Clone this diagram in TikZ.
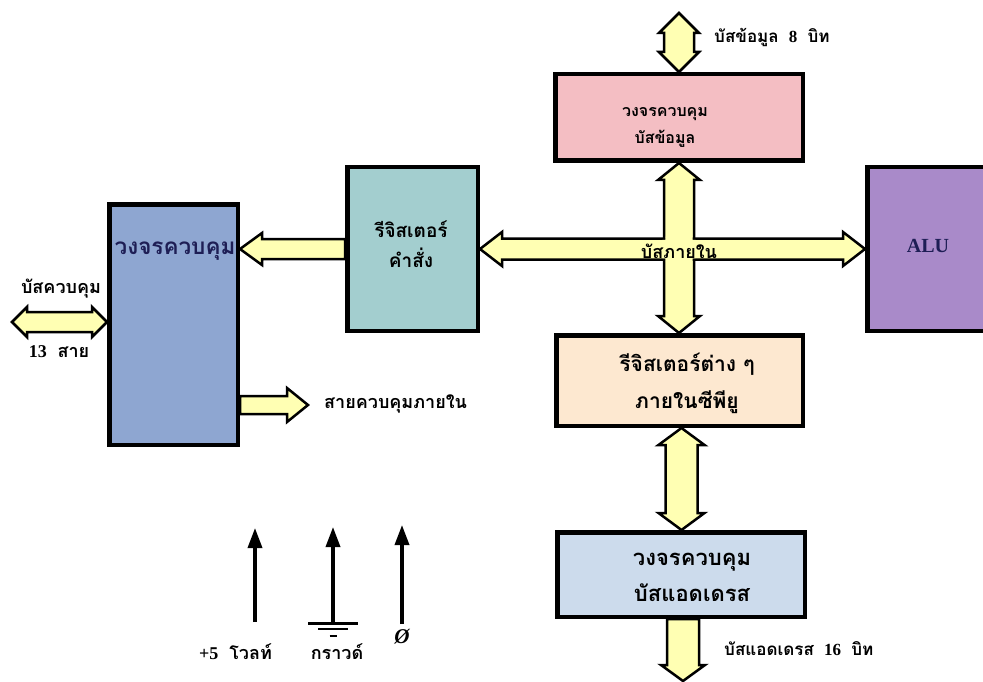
\documentclass[tikz,border=0pt]{standalone}
\usepackage{fontspec}
\setmainfont{Liberation Serif}
\newfontfamily\thai[Script=Thai]{Loma}
\usetikzlibrary{calc,arrows.meta}

\definecolor{busyellow}{HTML}{FFFFB3}
\definecolor{pinkbox}{HTML}{F4BEC3}
\definecolor{bluebox}{HTML}{8EA6D1}
\definecolor{tealbox}{HTML}{A3CECF}
\definecolor{purplebox}{HTML}{A98AC9}
\definecolor{peachbox}{HTML}{FDE8D0}
\definecolor{lightbluebox}{HTML}{CCDBEC}
\definecolor{navytext}{HTML}{1E1E55}

\pgfdeclarelayer{paper}
\pgfdeclarelayer{buslayer}
\pgfsetlayers{paper,buslayer,main}

\newcommand\gap{\hspace{0.6em}}

\tikzset{
  blockbox/.style={draw=black, line width=4.5pt, inner sep=0pt, anchor=north west},
  fatbus/.style={fill=busyellow, draw=black, line width=2.5pt, line join=miter},
  thtext/.style={font=\thai\bfseries\fontsize{18}{27}\selectfont, align=center, inner sep=1pt},
  pwr/.style={line width=3.5pt, -{Triangle[length=20pt,width=14pt]}},
}

% fat double-headed bus, vertical: top tip, bottom tip, half shaft, half head, head length
\newcommand\vdbl[5]{%
  \path[fatbus] let \p1=(#1), \p2=(#2) in
    (\x1,\y1) -- (\x1+#4pt,\y1-#5pt) -- (\x1+#3pt,\y1-#5pt) -- (\x1+#3pt,\y2+#5pt)
    -- (\x1+#4pt,\y2+#5pt) -- (\x1,\y2) -- (\x1-#4pt,\y2+#5pt) -- (\x1-#3pt,\y2+#5pt)
    -- (\x1-#3pt,\y1-#5pt) -- (\x1-#4pt,\y1-#5pt) -- cycle;}
% fat double-headed bus, horizontal: left tip, right tip, half shaft, half head, head length
\newcommand\hdbl[5]{%
  \path[fatbus] let \p1=(#1), \p2=(#2) in
    (\x1,\y1) -- (\x1+#5pt,\y1+#4pt) -- (\x1+#5pt,\y1+#3pt) -- (\x2-#5pt,\y1+#3pt)
    -- (\x2-#5pt,\y1+#4pt) -- (\x2,\y1) -- (\x2-#5pt,\y1-#4pt) -- (\x2-#5pt,\y1-#3pt)
    -- (\x1+#5pt,\y1-#3pt) -- (\x1+#5pt,\y1-#4pt) -- cycle;}
% fat single-headed arrow, horizontal: tail, tip
\newcommand\hone[5]{%
  \path[fatbus] let \p1=(#1), \p2=(#2), \n1={(\x2-\x1)/abs(\x2-\x1)} in
    (\x1,\y1+#3pt) -- ({\x2-\n1*#5pt},\y1+#3pt) -- ({\x2-\n1*#5pt},\y1+#4pt) -- (\x2,\y1)
    -- ({\x2-\n1*#5pt},\y1-#4pt) -- ({\x2-\n1*#5pt},\y1-#3pt) -- (\x1,\y1-#3pt) -- cycle;}
% fat single-headed arrow, vertical: tail, tip
\newcommand\vone[5]{%
  \path[fatbus] let \p1=(#1), \p2=(#2), \n1={(\y2-\y1)/abs(\y2-\y1)} in
    (\x1+#3pt,\y1) -- (\x1+#3pt,{\y2-\n1*#5pt}) -- (\x1+#4pt,{\y2-\n1*#5pt}) -- (\x1,\y2)
    -- (\x1-#4pt,{\y2-\n1*#5pt}) -- (\x1-#3pt,{\y2-\n1*#5pt}) -- (\x1-#3pt,\y1) -- cycle;}

\begin{document}
\begin{tikzpicture}[x=1pt,y=-1pt]
\useasboundingbox (0,0) rectangle (983,682);
\begin{pgfonlayer}{paper}
  \fill[white] (0,0) rectangle (983,682);
\end{pgfonlayer}

% blocks
\node[blockbox, fill=pinkbox, minimum width=247.5pt, minimum height=86.5pt] (pink) at (553,72) {};
\node[blockbox, fill=bluebox, minimum width=128.5pt, minimum height=240.5pt] (ctrl) at (107,202) {};
\node[blockbox, fill=tealbox, minimum width=130.5pt, minimum height=163.5pt] (ir) at (345,165) {};
\node[blockbox, fill=purplebox, minimum width=130.5pt, minimum height=163.5pt] (alu) at (865,165) {};
\node[blockbox, fill=peachbox, minimum width=246.5pt, minimum height=90.5pt] (reg) at (554,333) {};
\node[blockbox, fill=lightbluebox, minimum width=247.5pt, minimum height=84.5pt] (addr) at (555,530) {};

% texts inside blocks
\node[thtext, font=\thai\bfseries\fontsize{16}{27}\selectfont] (pinkt) at (665,127) {วงจรควบคุม\\บัสข้อมูล};
\node[thtext, text=navytext, font=\thai\bfseries\fontsize{22.5}{24}\selectfont] (ctrlt) at (175,251) {วงจรควบคุม};
\node[thtext, font=\thai\bfseries\fontsize{19}{30}\selectfont] (irt) at (411,244) {รีจิสเตอร์\\คำสั่ง};
\node[text=navytext, font=\bfseries\fontsize{20}{22}\selectfont] (alut) at (928,246) {ALU};
\node[thtext, font=\thai\bfseries\fontsize{21}{37}\selectfont] (regt) at (687,383) {รีจิสเตอร์ต่าง ๆ\\ภายในซีพียู};
\node[thtext, font=\thai\bfseries\fontsize{22}{36}\selectfont] (addrt) at (692,577) {วงจรควบคุม\\บัสแอดเดรส};

% free ends of the outer buses
\coordinate (dtop) at (679,13);
\coordinate (cbl) at (12,322);
\coordinate (icr) at (308,405);
\coordinate (abot) at (0,681);

\begin{pgfonlayer}{buslayer}
  % data bus, 8 bits
  \vdbl{dtop}{pink.north}{15}{20}{20}
  % internal bus, vertical and horizontal parts
  \vdbl{pink.south}{pink.south |- reg.north}{15}{21}{17}
  \hdbl{ir.east}{alu.west}{10.5}{17}{22}
  \fill[busyellow] let \p1=(pink.south), \p2=(ir.east) in
    (\x1-16.6pt,\y2+9.2pt) rectangle (\x1+16.6pt,\y2-9.2pt)
    (\x1-13.7pt,\y2+12.1pt) rectangle (\x1+13.7pt,\y2-12.1pt);
  % instruction register to control unit
  \hone{ir.west}{ctrl.east |- ir.west}{10}{16}{22}
  % control bus
  \hdbl{cbl}{ctrl.west |- cbl}{10}{15}{15}
  % internal control lines
  \hone{ctrl.east |- icr}{icr}{9}{17}{21}
  % registers to address bus control
  \vdbl{[xshift=2pt]reg.south}{[xshift=2pt]reg.south |- addr.north}{16}{23}{17}
  % address bus, 16 bits
  \vone{[xshift=2pt]addr.south}{[xshift=2pt]addr.south |- abot}{16}{22}{16}
\end{pgfonlayer}

% bus labels
\node[thtext, anchor=west, font=\thai\bfseries\fontsize{17}{20}\selectfont] (dlab) at (713,37) {บัสข้อมูล\gap{\rmfamily 8}\gap บิท};
\node[thtext] (ibl) at (679,251) {บัสภายใน};
\node[thtext] (cbl1) at (61,289) {บัสควบคุม};
\node[thtext] (cbl2) at (59,352) {{\rmfamily 13}\gap สาย};
\node[thtext, anchor=west] (iclab) at (323,404) {สายควบคุมภายใน};
\node[thtext, anchor=west, font=\thai\bfseries\fontsize{17}{20}\selectfont] (alab) at (723,649) {บัสแอดเดรส\gap{\rmfamily 16}\gap บิท};

% supply, ground and clock inputs
\node[thtext, anchor=west] (v5) at (198,652) {{\rmfamily +5}\gap โวลท์};
\node[thtext] (gnd) at (337,652) {กราวด์};
\node[font=\bfseries\itshape\fontsize{21}{22}\selectfont, inner sep=0pt] (clk) at (402,637) {Ø};

\coordinate (v5b) at (255,622);
\coordinate (v5t) at (255,528);
\coordinate (gb) at (333,623);
\coordinate (gt) at (333,527);
\coordinate (cb) at (402,624);
\coordinate (ct) at (402,525);
\draw[pwr] (v5b) -- (v5t);
\draw[pwr] (gb) -- (gt);
\draw[pwr] (cb) -- (ct);

% ground symbol
\draw[line width=3pt] ([xshift=-25pt]gb) -- ([xshift=25pt]gb);
\draw[line width=2.5pt] ($(gb)+(-15,6)$) -- ($(gb)+(15,6)$);
\draw[line width=2.5pt] ($(gb)+(-3.5,13)$) -- ($(gb)+(3.5,13)$);
\end{tikzpicture}
\end{document}
